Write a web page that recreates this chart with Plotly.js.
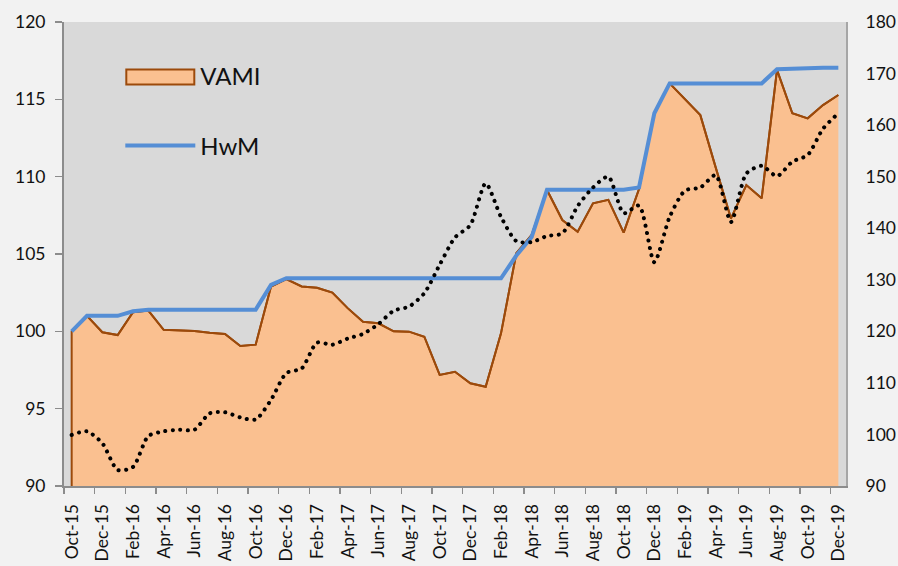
<!DOCTYPE html>
<html><head><meta charset="utf-8">
<script src="https://cdn.plot.ly/plotly-3.0.1.min.js"></script>
<style>html,body{margin:0;padding:0;background:#f2f2f2}#chart{width:898px;height:566px}</style>
</head><body><div id="chart"></div><script>
const months = ["Oct-15","Nov-15","Dec-15","Jan-16","Feb-16","Mar-16","Apr-16","May-16","Jun-16","Jul-16","Aug-16","Sep-16",
"Oct-16","Nov-16","Dec-16","Jan-17","Feb-17","Mar-17","Apr-17","May-17","Jun-17","Jul-17","Aug-17","Sep-17",
"Oct-17","Nov-17","Dec-17","Jan-18","Feb-18","Mar-18","Apr-18","May-18","Jun-18","Jul-18","Aug-18","Sep-18",
"Oct-18","Nov-18","Dec-18","Jan-19","Feb-19","Mar-19","Apr-19","May-19","Jun-19","Jul-19","Aug-19","Sep-19",
"Oct-19","Nov-19","Dec-19"];
const vami = [100,101.0,99.94,99.76,101.23,101.34,100.1,100.06,100.02,99.91,
99.83,99.05,99.14,102.9,103.38,102.9,102.82,102.5,101.5,100.62,
100.52,100.0,99.98,99.65,97.18,97.39,96.64,96.42,99.87,105.05,
106.23,109.14,107.2,106.44,108.28,108.5,106.38,109.2,114.1,116.03,
115.0,113.98,110.6,107.3,109.46,108.6,116.9,114.1,113.77,114.63,115.28];
const hwm = [100,101.0,101.0,101.0,101.3,101.4,101.4,101.4,101.4,101.4,
101.4,101.4,101.4,103.0,103.43,103.43,103.43,103.43,103.43,103.43,
103.43,103.43,103.43,103.43,103.43,103.43,103.43,103.43,103.43,104.9,
106.1,109.15,109.15,109.15,109.15,109.15,109.15,109.3,114.1,116.03,
116.03,116.03,116.03,116.03,116.03,116.03,116.95,117.0,117.05,117.05,117.05];
const benchmark = [99.9,100.6,98.3,93.1,93.7,99.7,100.6,100.9,100.9,104.1,
104.3,103.3,102.9,106.7,111.9,112.8,117.8,117.4,118.6,119.5,
121.4,124.0,124.8,127.4,132.9,138.2,140.6,148.7,142.2,137.5,
137.3,138.5,139.0,144.3,147.9,150.0,142.9,144.4,133.4,142.2,
147.3,147.9,150.3,141.2,150.6,152.1,150.1,152.9,154.2,159.3,162.3];
const leftRange = [90,120];
const rightRange = [90,180];

const idx = months.map((m,i)=>i);
const labelIdx = idx.filter(i=>i%2===0);
const FONT = "Lato, 'Open Sans', sans-serif";
const VAMI_FILL = "#FAC090", VAMI_LINE = "#9C4A0B";

const traces = [
  {x: idx, y: vami, name: "VAMI", type: "scatter", mode: "lines", fill: "tozeroy",
   fillcolor: VAMI_FILL, line: {color: VAMI_LINE, width: 2}, legend: "legend", hoverinfo: "skip"},
  {x: idx, y: hwm, name: "HwM", type: "scatter", mode: "lines",
   line: {color: "#558ED5", width: 4}, legend: "legend2", hoverinfo: "skip"},
  {x: idx, y: benchmark, name: "Index", type: "scatter", mode: "lines", yaxis: "y2",
   line: {color: "#000000", width: 3.5, dash: "3px,5px", shape: "spline", smoothing: 0.7},
   showlegend: false, hoverinfo: "skip"}
];

const layout = {
  width: 898, height: 566,
  margin: {l: 64, r: 52, t: 22, b: 80},
  paper_bgcolor: "#f2f2f2", plot_bgcolor: "#d9d9d9",
  font: {family: FONT, size: 17.5, color: "#111111"},
  showlegend: true,
  xaxis: {
    range: [-0.5, months.length - 0.5], showgrid: false, zeroline: false,
    tickmode: "array", tickvals: labelIdx.map(i=>i-0.5), ticktext: labelIdx.map(i=>months[i]),
    ticklabelshift: 8, tickangle: -90, ticks: "outside", ticklen: 6, tickwidth: 1.5, tickcolor: "#8c8c8c",
    showline: true, linecolor: "#8c8c8c", linewidth: 2, ticklabelstandoff: 3, fixedrange: true
  },
  yaxis: {
    range: leftRange, dtick: 5, showgrid: false, zeroline: false,
    ticks: "outside", ticklen: 7, tickwidth: 1.5, tickcolor: "#8c8c8c",
    showline: true, linecolor: "#8c8c8c", linewidth: 2, ticklabelstandoff: 6
  },
  yaxis2: {
    range: rightRange, dtick: 10, overlaying: "y", side: "right", showgrid: false, zeroline: false,
    ticks: "", showline: true, linecolor: "#a6a6a6", linewidth: 2, ticklabelstandoff: 14
  },
  legend: {x: 0.072, y: 0.8836, xanchor: "left", yanchor: "middle", bgcolor: "rgba(0,0,0,0)",
    itemwidth: 70, font: {family: FONT, size: 24, color: "#111111"}},
  legend2: {x: 0.072, y: 0.7328, xanchor: "left", yanchor: "middle", bgcolor: "rgba(0,0,0,0)",
    itemwidth: 70, font: {family: FONT, size: 24, color: "#111111"}}
};

Plotly.newPlot("chart", traces, layout, {staticPlot: true}).then(function(gd){
  // VAMI legend swatch: a filled, outlined box like the source
  const lg = gd.querySelector(".infolayer g.legend");
  if (lg) {
    const f = lg.querySelector(".legendfill path");
    if (f) {
      f.setAttribute("d", "M6,-6h68v15h-68z");
      f.style.fill = VAMI_FILL; f.style.fillOpacity = 1;
      f.style.stroke = VAMI_LINE; f.style.strokeWidth = "2px";
    }
    const l = lg.querySelector(".legendlines path");
    if (l) l.style.display = "none";
  }
  // outline the VAMI area (gives the vertical edges at both ends)
  const fills = gd.querySelectorAll(".scatterlayer .js-fill");
  fills.forEach(function(p){
    p.style.stroke = VAMI_LINE; p.style.strokeWidth = "2px";
  });
  // round dots for the secondary series
  gd.querySelectorAll(".scatterlayer .js-line").forEach(function(p){
    const s = p.style.stroke;
    if (s === "rgb(0, 0, 0)") {
      p.style.strokeDasharray = "0.1px,7.4px";
      p.style.strokeLinecap = "round";
      p.style.strokeWidth = "4px";
    }
  });
});
</script></body></html>
